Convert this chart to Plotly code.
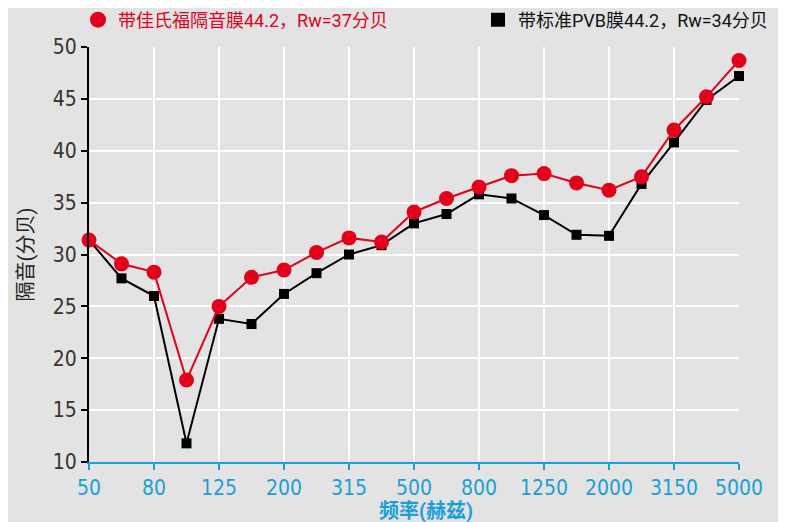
import plotly.graph_objects as go

freqs = ["50", "63", "80", "100", "125", "160", "200", "250", "315", "400", "500",
         "630", "800", "1000", "1250", "1600", "2000", "2500", "3150", "4000", "5000"]
red_vals = [31.4, 29.1, 28.3, 17.9, 25.0, 27.8, 28.5, 30.2, 31.6, 31.2, 34.1,
            35.4, 36.5, 37.6, 37.8, 36.9, 36.2, 37.5, 42.0, 45.2, 48.7]
black_vals = [31.4, 27.7, 26.0, 11.8, 23.8, 23.3, 26.2, 28.2, 30.0, 30.9, 33.0,
              33.9, 35.8, 35.4, 33.8, 31.9, 31.8, 36.8, 40.8, 44.9, 47.2]
red_name = "带佳氏福隔音膜44.2，Rw=37分贝"
black_name = "带标准PVB膜44.2，Rw=34分贝"
x_title = "频率(赫兹)"
y_title = "隔音(分贝)"

xi = list(range(len(freqs)))
tickvals = xi[::2]
ticktext = freqs[::2]

RED = "#e2001a"
BLUE = "#1a9fd9"
BG = "#e3e3e3"
FONT = "Roboto, 'Noto Sans CJK SC', sans-serif"
TICKFONT = "'Liberation Sans Narrow', 'DejaVu Sans Condensed', Roboto, sans-serif"

W, H = 778, 514
L, R, T, B = 81, 47, 39, 60
PW = W - L - R
PH = H - T - B

fig = go.Figure()
fig.add_trace(go.Scatter(x=xi, y=black_vals, mode="lines+markers",
                         line=dict(color="black", width=2),
                         marker=dict(symbol="square", size=10, color="black"),
                         cliponaxis=False, showlegend=False))
fig.add_trace(go.Scatter(x=xi, y=red_vals, mode="lines+markers",
                         line=dict(color=RED, width=2),
                         marker=dict(symbol="circle", size=15, color=RED),
                         cliponaxis=False, showlegend=False))
# legend entries
fig.add_trace(go.Scatter(x=[None], y=[None], mode="markers", name=red_name,
                         marker=dict(symbol="circle", size=18, color=RED), legend="legend"))
fig.add_trace(go.Scatter(x=[None], y=[None], mode="markers", name=black_name,
                         marker=dict(symbol="square", size=14, color="black"), legend="legend2"))

fig.update_layout(
    width=W, height=H,
    paper_bgcolor=BG, plot_bgcolor=BG,
    margin=dict(l=L, r=R, t=T, b=B, autoexpand=False),
    font=dict(family=FONT, size=17, color="#333333"),
    legend=dict(x=(70 - L) / PW, y=1 - 12 / H, xanchor="left", yanchor="middle",
                xref="paper", yref="container",
                font=dict(size=18, color=RED, family=FONT), bgcolor="rgba(0,0,0,0)"),
    legend2=dict(x=(470 - L) / PW, y=1 - 12 / H, xanchor="left", yanchor="middle",
                 xref="paper", yref="container",
                 font=dict(size=18, color="#111111", family=FONT), bgcolor="rgba(0,0,0,0)"),
    xaxis=dict(range=[0, 20], tickvals=tickvals, ticktext=ticktext,
               showgrid=True, gridcolor="white", gridwidth=2,
               showline=True, linecolor=BLUE, linewidth=2,
               ticks="outside", tickcolor=BLUE, ticklen=6, tickwidth=2,
               tickfont=dict(color=BLUE, size=21, family=TICKFONT),
               zeroline=False, automargin=False),
    yaxis=dict(range=[10, 50], dtick=5, tick0=10,
               showgrid=True, gridcolor="white", gridwidth=2,
               showline=True, linecolor="black", linewidth=2,
               ticks="outside", tickcolor="black", ticklen=6, tickwidth=2,
               tickfont=dict(color="#333333", size=21, family=TICKFONT),
               title=dict(text=y_title, font=dict(color="#222222", size=20), standoff=14),
               zeroline=False, automargin=False),
)
fig.add_annotation(text="<b>" + x_title + "</b>", xref="paper", yref="paper",
                   x=(418 - L) / PW, y=-49 / PH, xanchor="center", yanchor="middle",
                   showarrow=False, font=dict(color=BLUE, size=20, family=FONT))

fig.write_html("out.html")
